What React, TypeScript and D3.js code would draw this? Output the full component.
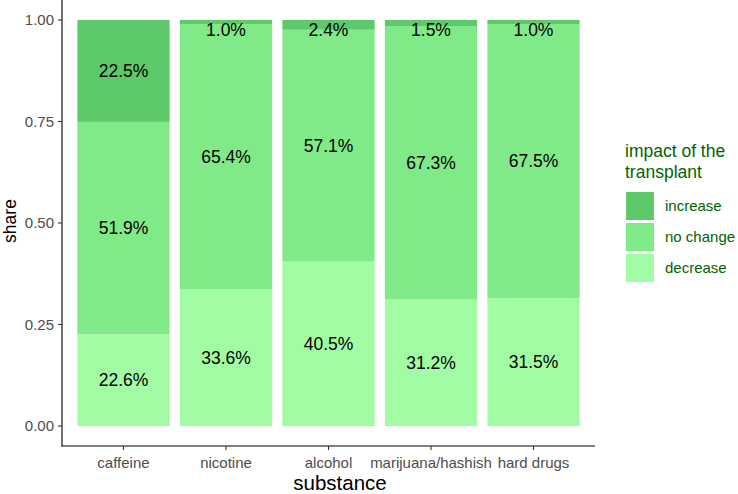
import { useEffect, useRef } from 'react'
import * as d3 from 'd3'

const substances = ['caffeine', 'nicotine', 'alcohol', 'marijuana/hashish', 'hard drugs']
const impacts = ['decrease', 'no change', 'increase']

// bar heights (share)
const decreaseShare = [0.226, 0.336, 0.405, 0.312, 0.315]
const noChangeShare = [0.523, 0.654, 0.571, 0.673, 0.675]
const increaseShare = [0.251, 0.010, 0.024, 0.015, 0.010]

// printed labels (percent)
const decreasePct = [22.6, 33.6, 40.5, 31.2, 31.5]
const noChangePct = [51.9, 65.4, 57.1, 67.3, 67.5]
const increasePct = [22.5, 1.0, 2.4, 1.5, 1.0]

const yTicks = [0, 0.25, 0.5, 0.75, 1]

const colors = {
  'increase': '#5ec96a',
  'no change': '#80ea88',
  'decrease': '#a1fca3'
}

const font = '"Liberation Sans", Arial, Helvetica, sans-serif'

export default function App() {
  const svgRef = useRef(null)

  const svgWidth = 738
  const svgHeight = 494
  const panel = { left: 62, right: 595, top: 0, bottom: 446 }

  useEffect(() => {
    svgRef.current.innerHTML = ''

    const data = substances.map((s, i) => ({
      substance: s,
      'decrease': decreaseShare[i],
      'no change': noChangeShare[i],
      'increase': increaseShare[i],
      pct: { 'decrease': decreasePct[i], 'no change': noChangePct[i], 'increase': increasePct[i] }
    }))

    const series = d3.stack().keys(impacts)(data)

    const x = d3.scaleBand()
      .domain(substances)
      .range([panel.left, panel.right])
      .paddingInner(0.1)
      .paddingOuter(0.15)

    const y = d3.scaleLinear()
      .domain([0, 1])
      .range([426, 20])

    const svg = d3.select(svgRef.current)
      .style('font-family', font)

    // bars
    svg.append('g')
      .selectAll('g')
      .data(series)
      .join('g')
        .attr('fill', d => colors[d.key])
      .selectAll('rect')
      .data(d => d)
      .join('rect')
        .attr('x', d => x(d.data.substance))
        .attr('width', x.bandwidth())
        .attr('y', d => y(d[1]))
        .attr('height', d => y(d[0]) - y(d[1]))

    // segment labels, kept inside the panel like a repelled label
    const labels = svg.append('g')
      .attr('font-size', 17.5)
      .attr('fill', '#000')
      .attr('text-anchor', 'middle')
    series.forEach(s => {
      s.forEach(d => {
        const mid = Math.max(y((d[0] + d[1]) / 2), y(1) + 10)
        labels.append('text')
          .attr('x', x(d.data.substance) + x.bandwidth() / 2)
          .attr('y', mid)
          .attr('dy', '0.35em')
          .text(d.data.pct[s.key].toFixed(1) + '%')
      })
    })

    // y axis
    const yAxis = svg.append('g')
    yAxis.append('line')
      .attr('x1', panel.left).attr('x2', panel.left)
      .attr('y1', panel.top).attr('y2', panel.bottom + 0.5)
      .attr('stroke', '#000').attr('stroke-width', 1.1)
    yTicks.forEach(t => {
      yAxis.append('line')
        .attr('x1', panel.left - 4).attr('x2', panel.left)
        .attr('y1', y(t)).attr('y2', y(t))
        .attr('stroke', '#333').attr('stroke-width', 1.1)
      yAxis.append('text')
        .attr('x', panel.left - 8)
        .attr('y', y(t))
        .attr('dy', '0.35em')
        .attr('text-anchor', 'end')
        .attr('font-size', 15)
        .attr('fill', '#4d4d4d')
        .text(d3.format('.2f')(t))
    })

    // x axis
    const xAxis = svg.append('g')
    xAxis.append('line')
      .attr('x1', panel.left - 0.5).attr('x2', panel.right)
      .attr('y1', panel.bottom).attr('y2', panel.bottom)
      .attr('stroke', '#000').attr('stroke-width', 1.1)
    substances.forEach(s => {
      const cx = x(s) + x.bandwidth() / 2
      xAxis.append('line')
        .attr('x1', cx).attr('x2', cx)
        .attr('y1', panel.bottom).attr('y2', panel.bottom + 4)
        .attr('stroke', '#333').attr('stroke-width', 1.1)
      xAxis.append('text')
        .attr('x', cx)
        .attr('y', 468)
        .attr('text-anchor', 'middle')
        .attr('font-size', 15)
        .attr('fill', '#4d4d4d')
        .text(s)
    })

    // axis titles
    svg.append('text')
      .attr('x', 340)
      .attr('y', 490)
      .attr('text-anchor', 'middle')
      .attr('font-size', 20.5)
      .attr('fill', '#000')
      .text('substance')

    svg.append('text')
      .attr('transform', `translate(16, 221) rotate(-90)`)
      .attr('text-anchor', 'middle')
      .attr('font-size', 17.5)
      .attr('fill', '#000')
      .text('share')

    // legend
    const legend = svg.append('g')
      .attr('fill', '#006400')
    legend.append('text')
      .attr('x', 625).attr('y', 157)
      .attr('font-size', 17.5)
      .text('impact of the')
    legend.append('text')
      .attr('x', 625).attr('y', 178)
      .attr('font-size', 17.5)
      .text('transplant')

    const legendKeys = [...impacts].reverse()
    legendKeys.forEach((k, i) => {
      const ky = 192 + i * 31
      legend.append('rect')
        .attr('x', 626).attr('y', ky)
        .attr('width', 28).attr('height', 28)
        .attr('fill', colors[k])
      legend.append('text')
        .attr('x', 665).attr('y', ky + 14)
        .attr('dy', '0.35em')
        .attr('font-size', 15)
        .text(k)
    })
  }, [])

  return (
    <svg
      ref={ svgRef }
      width={ svgWidth }
      height={ svgHeight }
      viewBox={ `0 0 ${svgWidth} ${svgHeight}` }
      style={ { position: 'absolute', left: 0, top: 0, background: '#fff' } }
    />
  )
}
